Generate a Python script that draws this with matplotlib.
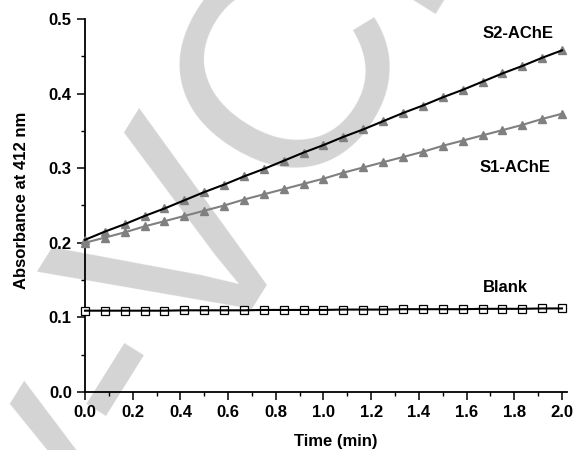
import matplotlib
matplotlib.use("Agg")
import matplotlib.pyplot as plt
from matplotlib.ticker import MultipleLocator, FormatStrFormatter
from matplotlib.transforms import IdentityTransform
import numpy as np

time_min = [0.0, 0.0833, 0.1667, 0.25, 0.3333, 0.4167, 0.5, 0.5833, 0.6667, 0.75,
            0.8333, 0.9167, 1.0, 1.0833, 1.1667, 1.25, 1.3333, 1.4167, 1.5, 1.5833,
            1.6667, 1.75, 1.8333, 1.9167, 2.0]
s2_ache = [0.204, 0.215, 0.225, 0.236, 0.246, 0.257, 0.268, 0.278, 0.289, 0.299,
           0.310, 0.321, 0.331, 0.342, 0.352, 0.363, 0.374, 0.384, 0.395, 0.405,
           0.416, 0.427, 0.437, 0.448, 0.458]
s1_ache = [0.200, 0.207, 0.214, 0.222, 0.229, 0.236, 0.243, 0.250, 0.258, 0.265,
           0.272, 0.279, 0.286, 0.294, 0.301, 0.308, 0.315, 0.322, 0.330, 0.337,
           0.344, 0.351, 0.358, 0.366, 0.373]
blank = [0.109, 0.109, 0.109, 0.109, 0.109, 0.1095, 0.1095, 0.1095, 0.1095, 0.110,
         0.110, 0.110, 0.110, 0.1105, 0.1105, 0.1105, 0.111, 0.111, 0.111, 0.111,
         0.1115, 0.1115, 0.1115, 0.112, 0.112]
series_labels = ["S2-AChE", "S1-AChE", "Blank"]

plt.rcParams['font.family'] = ['Liberation Sans', 'DejaVu Sans']

W, H = 577, 450
fig = plt.figure(figsize=(W / 100, H / 100), dpi=100)

# watermark (behind everything)
em_px = 293.0
fs = em_px * 72 / 100
rot = 58
ang = np.deg2rad(rot)
d = np.array([np.cos(ang), np.sin(ang)])
v_bottom = np.array([260.0, 155.0])
start = v_bottom - 3.11 * em_px * d
fig.text(start[0], start[1], "Wiley-VCH", transform=IdentityTransform(),
         fontsize=fs, color='#d4d4d4', rotation=rot, rotation_mode='anchor',
         ha='left', va='baseline', zorder=-1)

ax = fig.add_axes([85 / W, 58 / H, (567 - 85) / W, (431 - 58) / H])
ax.patch.set_alpha(0)
ax.set_zorder(1)

gray = '#808080'
ax.plot(time_min, s2_ache, linestyle='none', marker='^', ms=6.4, color=gray,
        mec=gray, clip_on=False, zorder=3)
ax.plot(time_min, s2_ache, color='black', lw=1.5, clip_on=False, zorder=4)
ax.plot(time_min, s1_ache, color=gray, lw=1.5, marker='^', ms=6.4, mec=gray,
        clip_on=False, zorder=3)
ax.plot(time_min, blank, linestyle='none', marker='s', ms=5.2, mfc='white',
        mec='black', mew=0.9, clip_on=False, zorder=3)
ax.plot(time_min, blank, color='black', lw=1.5, clip_on=False, zorder=4)

ax.set_xlim(0, 2.021)
ax.set_ylim(0, 0.5)
for s in ['top', 'right']:
    ax.spines[s].set_visible(False)
for s in ['left', 'bottom']:
    ax.spines[s].set_linewidth(1.3)

ax.xaxis.set_major_locator(MultipleLocator(0.2))
ax.xaxis.set_minor_locator(MultipleLocator(0.1))
ax.yaxis.set_major_locator(MultipleLocator(0.1))
ax.yaxis.set_minor_locator(MultipleLocator(0.05))
ax.xaxis.set_major_formatter(FormatStrFormatter('%.1f'))
ax.yaxis.set_major_formatter(FormatStrFormatter('%.1f'))
ax.tick_params(which='major', direction='out', length=5.5, width=1.1,
               labelsize=12, pad=4)
ax.tick_params(which='minor', direction='out', length=3, width=1.0)
for lbl in ax.get_xticklabels() + ax.get_yticklabels():
    lbl.set_fontweight('bold')

ax.set_xlabel("Time (min)", fontsize=12, fontweight='bold')
ax.set_ylabel("Absorbance at 412 nm", fontsize=12, fontweight='bold')
ax.xaxis.set_label_coords((336 - 85) / (567 - 85), -(434 - 392) / 373)
ax.yaxis.set_label_coords(-(85 - 29) / (567 - 85), (392 - 200) / 373)

label_pos = [(518, 33), (515, 167), (505, 287)]
for txt, (px, py) in zip(series_labels, label_pos):
    fig.text(px / W, 1 - py / H, txt, fontsize=12, fontweight='bold',
             ha='center', va='center', zorder=5)

fig.savefig("out.png", dpi=100)
